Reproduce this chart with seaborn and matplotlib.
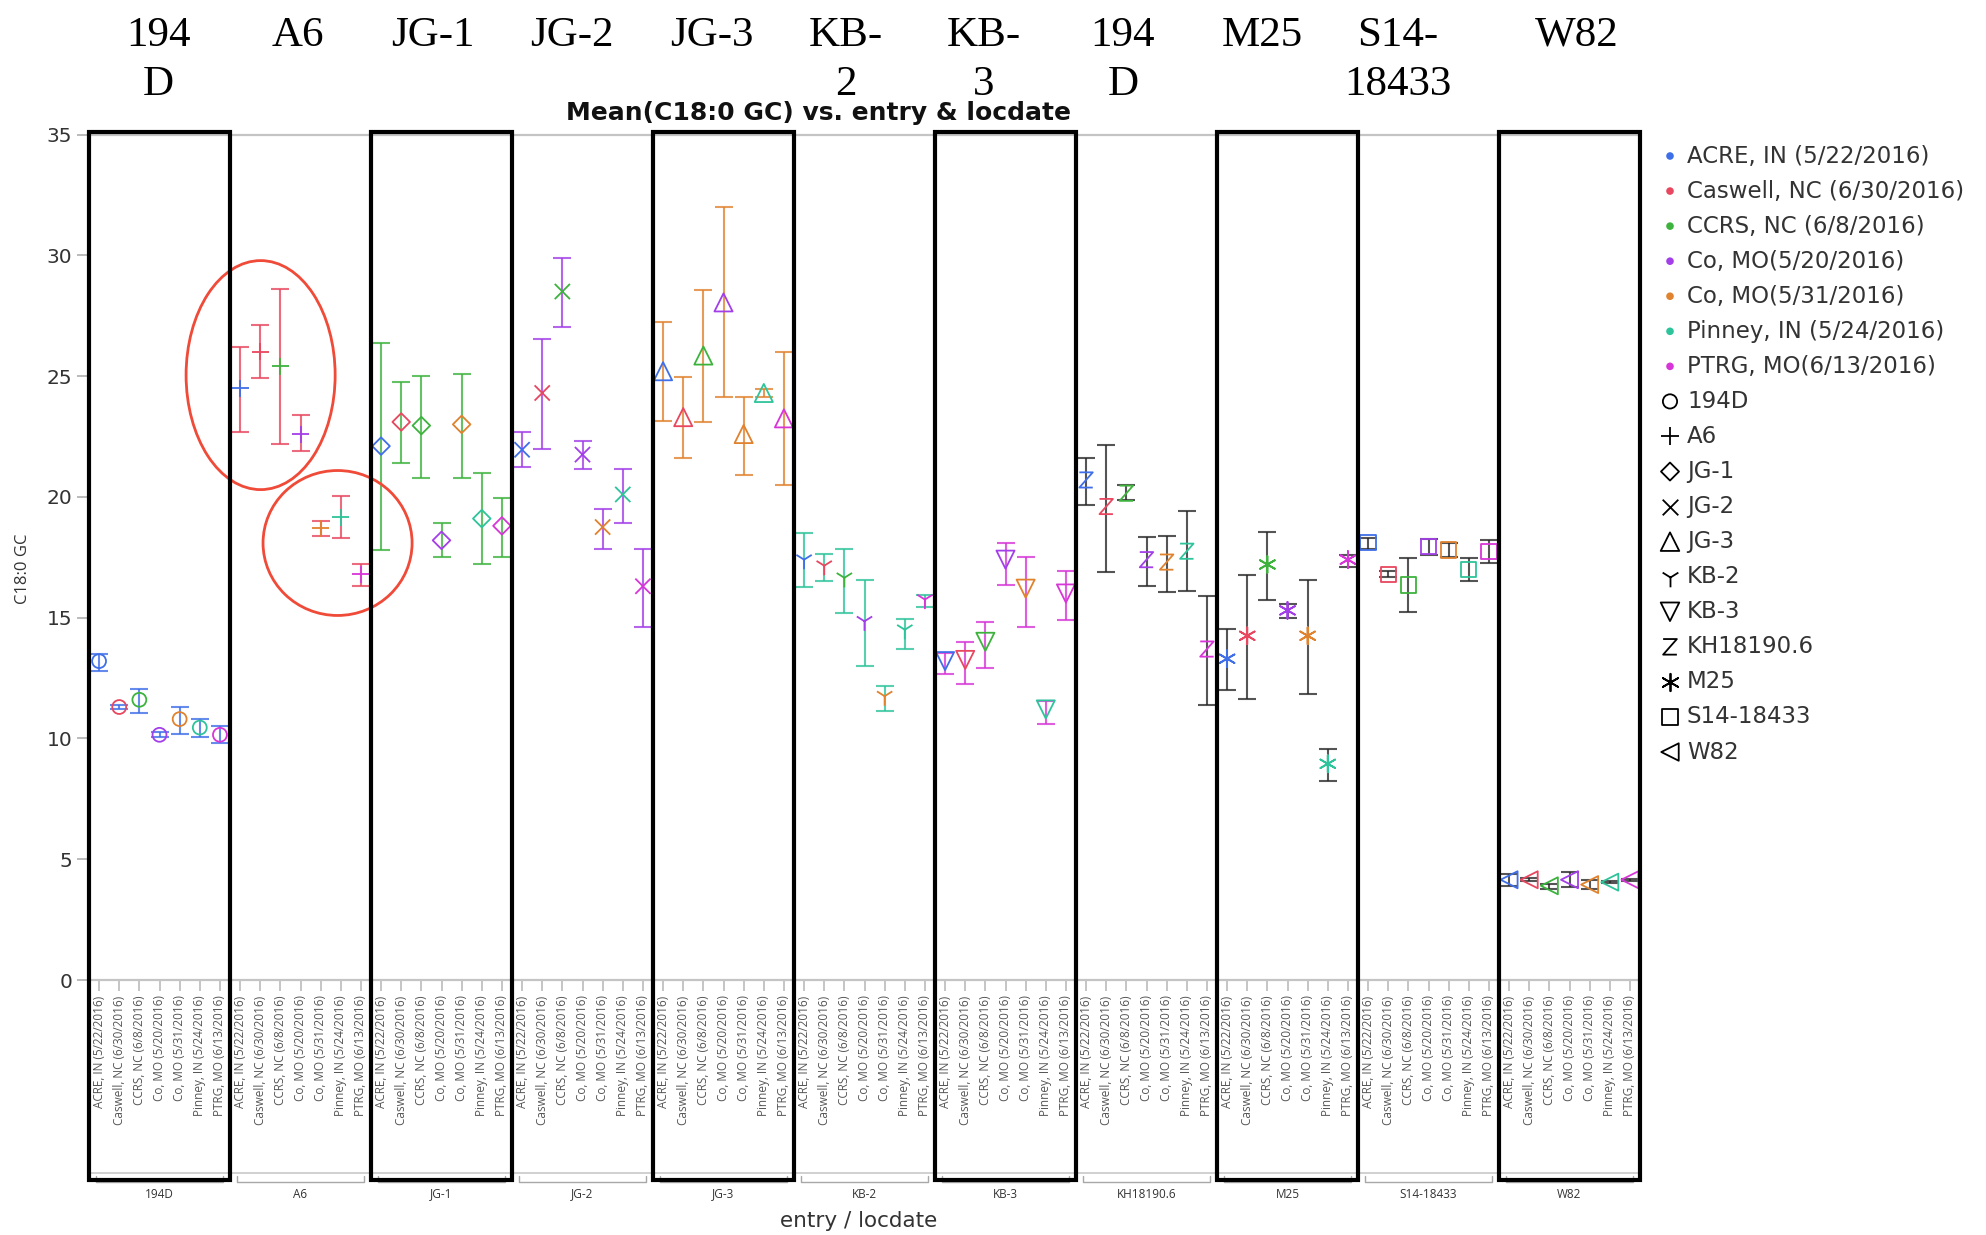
import numpy as np
import pandas as pd
import matplotlib
matplotlib.use("Agg")
import matplotlib.pyplot as plt
import seaborn as sns
from matplotlib.patches import Ellipse, Rectangle
from matplotlib.path import Path
from matplotlib.lines import Line2D
from matplotlib.markers import MarkerStyle
from matplotlib.transforms import blended_transform_factory

# ---------------- data ----------------
entries = ["194D", "A6", "JG-1", "JG-2", "JG-3", "KB-2", "KB-3",
           "KH18190.6", "M25", "S14-18433", "W82"]
top_labels = ["194\nD", "A6", "JG-1", "JG-2", "JG-3", "KB-\n2", "KB-\n3",
              "194\nD", "M25", "S14-\n18433", "W82"]
locations = ["ACRE, IN (5/22/2016)", "Caswell, NC (6/30/2016)", "CCRS, NC (6/8/2016)",
             "Co, MO (5/20/2016)", "Co, MO (5/31/2016)", "Pinney, IN (5/24/2016)",
             "PTRG, MO (6/13/2016)"]
legend_locations = ["ACRE, IN (5/22/2016)", "Caswell, NC (6/30/2016)", "CCRS, NC (6/8/2016)",
                    "Co, MO(5/20/2016)", "Co, MO(5/31/2016)", "Pinney, IN (5/24/2016)",
                    "PTRG, MO(6/13/2016)"]

mean_194D = [13.2, 11.3, 11.6, 10.15, 10.8, 10.45, 10.15]
lo_194D = [12.8, 11.2, 11.05, 10.05, 10.2, 10.05, 9.8]
hi_194D = [13.5, 11.4, 12.05, 10.25, 11.3, 10.8, 10.5]

mean_A6 = [24.5, 26.0, 25.4, 22.6, 18.7, 19.15, 16.8]
lo_A6 = [22.7, 24.9, 22.2, 21.9, 18.4, 18.3, 16.3]
hi_A6 = [26.2, 27.1, 28.6, 23.4, 19.0, 20.05, 17.2]

mean_JG1 = [22.1, 23.1, 22.95, 18.2, 23.0, 19.1, 18.8]
lo_JG1 = [17.8, 21.4, 20.8, 17.5, 20.8, 17.2, 17.5]
hi_JG1 = [26.35, 24.75, 25.0, 18.9, 25.1, 21.0, 19.95]

mean_JG2 = [21.95, 24.3, 28.5, 21.75, 18.75, 20.1, 16.3]
lo_JG2 = [21.25, 22.0, 27.05, 21.15, 17.85, 18.9, 14.6]
hi_JG2 = [22.7, 26.55, 29.9, 22.3, 19.5, 21.15, 17.85]

mean_JG3 = [25.2, 23.3, 25.85, 28.05, 22.6, 24.3, 23.25]
lo_JG3 = [23.15, 21.6, 23.1, 24.15, 20.9, 24.15, 20.5]
hi_JG3 = [27.25, 24.95, 28.55, 32.0, 24.15, 24.45, 26.0]

mean_KB2 = [17.4, 17.15, 16.65, 14.85, 11.75, 14.5, 15.75]
lo_KB2 = [16.25, 16.5, 15.2, 13.0, 11.15, 13.7, 15.45]
hi_KB2 = [18.5, 17.65, 17.85, 16.55, 12.15, 14.95, 15.95]

mean_KB3 = [13.2, 13.25, 14.0, 17.4, 16.2, 11.2, 16.0]
lo_KB3 = [12.65, 12.25, 12.9, 16.35, 14.6, 10.6, 14.9]
hi_KB3 = [13.55, 14.0, 14.8, 18.1, 17.5, 11.55, 16.95]

mean_KH = [20.7, 19.6, 20.15, 17.4, 17.3, 17.75, 13.7]
lo_KH = [19.65, 16.9, 19.85, 16.3, 16.05, 16.1, 11.4]
hi_KH = [21.6, 22.15, 20.5, 18.35, 18.4, 19.4, 15.9]

mean_M25 = [13.3, 14.25, 17.2, 15.3, 14.25, 8.95, 17.4]
lo_M25 = [12.0, 11.65, 15.75, 15.0, 11.85, 8.25, 17.1]
hi_M25 = [14.55, 16.75, 18.55, 15.55, 16.55, 9.55, 17.6]

mean_S14 = [18.1, 16.8, 16.35, 17.95, 17.8, 17.0, 17.75]
lo_S14 = [17.85, 16.7, 15.25, 17.6, 17.5, 16.5, 17.25]
hi_S14 = [18.3, 16.95, 17.45, 18.25, 18.1, 17.45, 18.2]

mean_W82 = [4.15, 4.15, 3.9, 4.15, 3.95, 4.05, 4.15]
lo_W82 = [3.9, 4.08, 3.78, 3.85, 3.77, 4.0, 4.1]
hi_W82 = [4.4, 4.22, 3.97, 4.48, 4.14, 4.1, 4.2]

means = [mean_194D, mean_A6, mean_JG1, mean_JG2, mean_JG3, mean_KB2, mean_KB3,
         mean_KH, mean_M25, mean_S14, mean_W82]
lows = [lo_194D, lo_A6, lo_JG1, lo_JG2, lo_JG3, lo_KB2, lo_KB3,
        lo_KH, lo_M25, lo_S14, lo_W82]
highs = [hi_194D, hi_A6, hi_JG1, hi_JG2, hi_JG3, hi_KB2, hi_KB3,
         hi_KH, hi_M25, hi_S14, hi_W82]

rows = []
for g, e in enumerate(entries):
    for j, loc in enumerate(locations):
        rows.append(dict(entry=e, loc=loc, x=g * 7 + j,
                         mean=means[g][j], lo=lows[g][j], hi=highs[g][j]))
df = pd.DataFrame(rows)

# ---------------- style ----------------
sns.set_theme(style="white")
plt.rcParams["font.family"] = ["DejaVu Sans"]

loc_colors = ["#3F6FE8", "#E8475F", "#3DB33D", "#A33FE8", "#E0822E", "#2EC49B", "#D835D8"]
palette = dict(zip(locations, loc_colors))
bar_colors = loc_colors + ["#2A2A2A"] * 4

Z_MARKER = Path([(-0.75, 0.85), (0.75, 0.85), (-0.75, -0.85), (0.75, -0.85)],
                [Path.MOVETO, Path.LINETO, Path.LINETO, Path.LINETO])
entry_markers = ["o", "+", "D", "x", "^", "1", "v", Z_MARKER, (6, 2, 0), "s", "<"]
entry_sizes = [100, 150, 80, 120, 170, 190, 170, 120, 150, 120, 150]

W, H, DPI = 1986, 1235, 100
fig = plt.figure(figsize=(W / DPI, H / DPI), dpi=DPI)
x0, x1, y0, y1 = 89, 1640, 980, 134.5
ax = fig.add_axes([x0 / W, 1 - y0 / H, (x1 - x0) / W, (y0 - y1) / H])

# error bars
for g, e in enumerate(entries):
    sub = df[df.entry == e]
    ax.errorbar(sub.x, sub["mean"], yerr=[sub["mean"] - sub.lo, sub.hi - sub["mean"]],
                fmt="none", ecolor=bar_colors[g], elinewidth=1.5, capsize=6.5,
                capthick=1.5, alpha=0.8, zorder=2)

# markers
for g, e in enumerate(entries):
    sub = df[df.entry == e]
    sns.scatterplot(data=sub, x="x", y="mean", hue="loc", palette=palette,
                    marker=entry_markers[g], s=entry_sizes[g], linewidth=1.3,
                    legend=False, ax=ax, zorder=3)
    coll = ax.collections[-1]
    cols = [palette[l] for l in sub["loc"]]
    coll.set_edgecolors(cols)
    coll.set_facecolors("none")
    coll.set_linewidths(1.3)

ax.set_xlim(-0.5, 76.5)
ax.set_ylim(0, 35)
ax.set_yticks(range(0, 36, 5))
ax.set_xticks(df.x)
ax.set_xticklabels(df["loc"], rotation=90, fontsize=8.5, color="#555555",
                   family="Open Sans")
ax.tick_params(axis="y", left=True, length=9, width=1.4, color="#BBBBBB",
               labelsize=14.5, labelcolor="#333333", pad=3)
ax.tick_params(axis="x", bottom=True, length=8, width=1.2, color="#BBBBBB", pad=3)
ax.set_xlabel("")
ax.set_ylabel("C18:0 GC", fontsize=12, color="#333333", family="Open Sans")
ax.yaxis.set_label_coords((31 - x0) / (x1 - x0), (y0 - 569) / (y0 - y1))
for sp in ax.spines.values():
    sp.set_color("#C4C4C4")
    sp.set_linewidth(1.6)

# red ellipses
ax.add_patch(Ellipse((8.02, 25.04), 7.4, 9.48, fill=False, ec="#F04A38", lw=2.0,
                     clip_on=False, zorder=5))
ax.add_patch(Ellipse((11.84, 18.09), 7.4, 6.0, fill=False, ec="#F04A38", lw=2.0,
                     clip_on=False, zorder=5))

trans = blended_transform_factory(ax.transData, fig.transFigure)
box_top, box_bot = 1 - 132 / H, 1 - 1180 / H
for g in range(0, len(entries), 2):
    ax.add_patch(Rectangle((g * 7 - 0.5, box_bot), 7, box_top - box_bot, transform=trans,
                           fill=False, ec="black", lw=3, clip_on=False, zorder=6))

# nested axis brackets and group labels
ax.add_line(Line2D([-0.5, 76.5], [1 - 1173 / H] * 2, transform=trans, color="#C8C8C8",
                   lw=1.2, clip_on=False))
for g, e in enumerate(entries):
    a, b = g * 7 - 0.5 + 0.35, g * 7 + 6.5 - 0.35
    yb, yt = 1 - 1182 / H, 1 - 1176 / H
    ax.add_line(Line2D([a, a, b, b], [yt, yb, yb, yt], transform=trans, color="#A8A8A8",
                       lw=1.0, clip_on=False))
    fig.text(g * 7 + 3, 1 - 1194 / H, e, transform=trans, ha="center", va="center",
             fontsize=8.5, color="#333333", family="Open Sans")

# top serif labels (text boxes over the chart)
TOP_X = [158, 298, 433, 572, 712, 846, 984, 1123, 1262, 1398, 1577]
for xc, lab in zip(TOP_X, top_labels):
    for k, line in enumerate(lab.split("\n")):
        fig.text(xc / W, 1 - (46 + 49 * k) / H, line, ha="center", va="baseline",
                 fontsize=31, family="Liberation Serif", color="black")

fig.text(819 / W, 1 - 120 / H, "Mean(C18:0 GC) vs. entry & locdate", ha="center",
         va="baseline", fontsize=18, fontweight="bold", color="#111111")
fig.text(859 / W, 1 - 1221 / H, "entry / locdate", ha="center", va="center",
         fontsize=15.5, color="#333333")

# legend
lax = fig.add_axes([1650 / W, 0, (W - 1650) / W, 1])
lax.set_xlim(1650, W)
lax.set_ylim(H, 0)
lax.axis("off")
leg_y0, leg_dy = 156, 35.06
for i, (lab, c) in enumerate(zip(legend_locations, loc_colors)):
    yy = leg_y0 + leg_dy * i
    lax.scatter([1670], [yy], s=30, color=c, edgecolors="none")
    lax.text(1687, yy, lab, va="center", ha="left", fontsize=16.5, color="#333333")
for k, e in enumerate(entries):
    yy = leg_y0 + leg_dy * (7 + k)
    m = entry_markers[k]
    if MarkerStyle(m).is_filled():
        lax.scatter([1670], [yy], marker=m, s=entry_sizes[k] * 1.05,
                    facecolors="none", edgecolors="black", linewidths=1.3)
    else:
        lax.scatter([1670], [yy], marker=m, s=entry_sizes[k] * 1.05,
                    c="black", linewidths=1.3)
    lax.text(1687, yy, e, va="center", ha="left", fontsize=16.5, color="#333333")

fig.savefig("out.png", dpi=DPI)
